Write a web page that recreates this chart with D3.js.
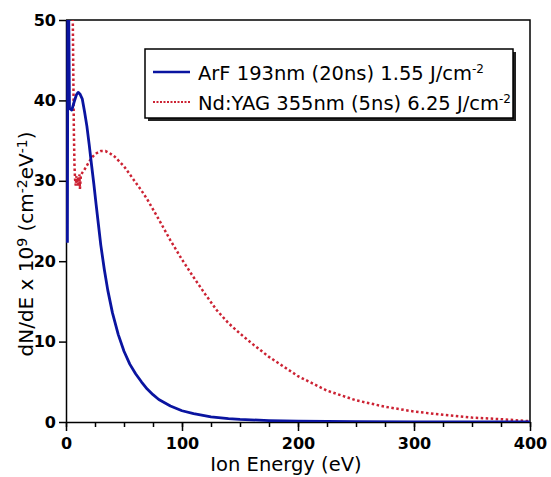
<!DOCTYPE html>
<html>
<head>
<meta charset="utf-8">
<script src="https://cdn.jsdelivr.net/npm/d3@7/dist/d3.min.js"></script>
<style>
  body { margin: 0; background: #fff; }
  svg { display: block; }
  text { font-family: "DejaVu Sans", Verdana, sans-serif; fill: #000; }
</style>
</head>
<body>
<svg id="chart" width="551" height="477"></svg>
<script>
// ArF 193nm (20ns) 1.55 J/cm-2
var arfEnergy = [1.2, 1.7, 3, 5, 7, 9, 10.5, 12, 14, 16, 18, 20, 22, 24, 26, 28, 30, 33, 36, 40,
  45, 50, 55, 60, 65, 70, 75, 80, 90, 100, 110, 125, 140, 150, 175, 200, 225, 250, 300, 350, 400];
var arfValues = [22.3, 62, 39, 38.8, 39.8, 40.7, 41.0, 40.8, 40.2, 38.6, 36.8, 34.5, 32.0, 29.6, 27.0, 24.5, 22.0, 19.0, 16.4, 13.6,
  10.9, 8.8, 7.2, 6.0, 5.0, 4.1, 3.4, 2.8, 2.0, 1.4, 1.05, 0.65, 0.42, 0.32, 0.18, 0.1, 0.06, 0.04, 0.02, 0.01, 0.01];

// Nd:YAG 355nm (5ns) 6.25 J/cm-2
var yagEnergy = [5.0, 6.0, 6.8, 7.3, 7.8, 8.4, 9, 9.6, 10.2, 10.8, 11.5, 12, 12.8, 14, 16, 18, 20, 23, 26, 30,
  34, 38, 42, 46, 50, 55, 60, 65, 70, 80, 90, 100, 110, 120, 130, 140, 150, 160, 175, 200,
  225, 250, 275, 300, 325, 350, 375, 400];
var yagValues = [62, 48, 36, 32, 30.2, 29.4, 30.6, 29.4, 30.4, 29.3, 30.8, 29.0, 30.6, 31.0, 31.4, 31.9, 32.4, 33.0, 33.4, 33.7,
  33.7, 33.4, 33.0, 32.4, 31.8, 30.8, 29.8, 28.8, 27.7, 25.2, 22.6, 20.2, 18.0, 15.9, 13.9, 12.3, 11.0, 9.8, 8.1, 5.7,
  3.9, 2.7, 1.9, 1.3, 0.9, 0.55, 0.35, 0.1];

var xTicks = [0, 100, 200, 300, 400];
var yTicks = [0, 10, 20, 30, 40, 50];

var margin = {left: 66, top: 20, right: 21, bottom: 55};
var width = 551 - margin.left - margin.right;
var height = 477 - margin.top - margin.bottom;

var svg = d3.select('#chart');
var g = svg.append('g').attr('transform', 'translate(' + margin.left + ',' + margin.top + ')');

var x = d3.scaleLinear().domain([0, 400]).range([0, width]);
var y = d3.scaleLinear().domain([0, 50]).range([height, 0]);

g.append('clipPath').attr('id', 'plot-clip')
    .append('rect').attr('width', width).attr('height', height);

// frame top and right
g.append('path')
    .attr('d', 'M0,0H' + width + 'V' + height)
    .attr('fill', 'none')
    .attr('stroke', '#000')
    .attr('stroke-width', 1.5);

// minor x ticks every 25 eV
var xMinor = d3.axisBottom(x).tickValues(d3.range(0, 401, 25)).tickSize(5).tickFormat('');
g.append('g').attr('transform', 'translate(0,' + height + ')').call(xMinor)
    .call(function(s) { s.select('.domain').remove(); });

var xAxis = d3.axisBottom(x).tickValues(xTicks).tickSize(9).tickPadding(4).tickSizeOuter(0);
var gx = g.append('g').attr('transform', 'translate(0,' + height + ')').call(xAxis);

var yAxis = d3.axisLeft(y).tickValues(yTicks).tickSize(7).tickPadding(3).tickSizeOuter(0);
var gy = g.append('g').call(yAxis);

[gx, gy].forEach(function(a) {
  a.selectAll('path, line').attr('stroke', '#000').attr('stroke-width', 1.5);
  a.selectAll('text')
      .style('font-family', '"DejaVu Sans", Verdana, sans-serif')
      .style('font-weight', 'bold')
      .style('font-size', '16px')
      .attr('fill', '#000');
});
gx.selectAll('text').attr('dy', '0.9em');
g.selectAll('.tick line').attr('stroke', '#000').attr('stroke-width', 1.5);

var line = d3.line()
    .x(function(d) { return x(d[0]); })
    .y(function(d) { return y(d[1]); });

var plot = g.append('g').attr('clip-path', 'url(#plot-clip)');

plot.append('path')
    .datum(d3.zip(yagEnergy, yagValues))
    .attr('d', line)
    .attr('fill', 'none')
    .attr('stroke', '#cc2233')
    .attr('stroke-width', 2.5)
    .attr('stroke-dasharray', '2.5,2.5');

plot.append('path')
    .datum(d3.zip(arfEnergy, arfValues))
    .attr('d', line)
    .attr('fill', 'none')
    .attr('stroke', '#0a14a0')
    .attr('stroke-width', 2.8)
    .attr('stroke-linejoin', 'round');

// axis titles
svg.append('text')
    .attr('x', 286)
    .attr('y', 471)
    .attr('text-anchor', 'middle')
    .style('font-size', '19.5px')
    .text('Ion Energy (eV)');

var yt = svg.append('text')
    .attr('transform', 'translate(33,244) rotate(-90)')
    .attr('text-anchor', 'middle')
    .style('font-size', '20px');
yt.append('tspan').text('dN/dE x 10');
yt.append('tspan').attr('baseline-shift', '45%').style('font-size', '14px').text('9');
yt.append('tspan').text(' (cm');
yt.append('tspan').attr('baseline-shift', '45%').style('font-size', '14px').text('-2');
yt.append('tspan').text('eV');
yt.append('tspan').attr('baseline-shift', '45%').style('font-size', '14px').text('-1');
yt.append('tspan').text(')');

// legend
var legendItems = [
  {label: 'ArF 193nm (20ns) 1.55 J/cm', color: '#0a14a0', dash: null, width: 2.5},
  {label: 'Nd:YAG 355nm (5ns) 6.25 J/cm', color: '#cc2233', dash: '2,1.5', width: 2}
];

var legend = svg.append('g').attr('transform', 'translate(145,49)');
legend.append('rect')
    .attr('x', 3).attr('y', 3).attr('width', 368).attr('height', 69)
    .attr('fill', '#222');
legend.append('rect')
    .attr('width', 368).attr('height', 69)
    .attr('fill', '#fff').attr('stroke', '#000').attr('stroke-width', 1.5);

var item = legend.selectAll('.item').data(legendItems).enter().append('g')
    .attr('class', 'item')
    .attr('transform', function(d, i) { return 'translate(0,' + (23 + i * 30) + ')'; });
item.append('line')
    .attr('x1', 8).attr('x2', 45)
    .attr('stroke', function(d) { return d.color; })
    .attr('stroke-width', function(d) { return d.width; })
    .attr('stroke-dasharray', function(d) { return d.dash; });
var lt = item.append('text')
    .attr('x', 53).attr('y', 8)
    .style('font-size', '19.5px');
lt.append('tspan').text(function(d) { return d.label; });
lt.append('tspan').attr('baseline-shift', '60%').style('font-size', '12px').text('-2');
</script>
</body>
</html>
